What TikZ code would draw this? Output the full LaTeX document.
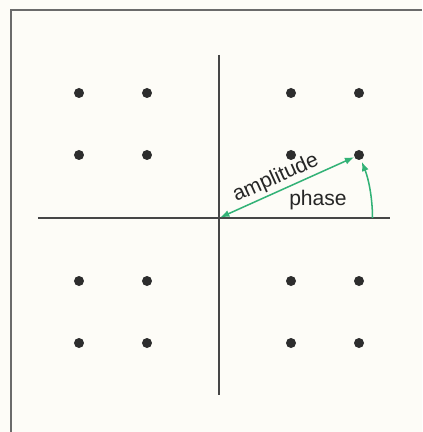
\documentclass[tikz,border=0pt]{standalone}
\usepackage{fontspec}
\setmainfont{Liberation Sans}
\usetikzlibrary{arrows.meta,positioning}
\definecolor{PaperBG}{RGB}{253,252,247}
\definecolor{AxisGray}{RGB}{70,70,70}
\definecolor{DotBlack}{RGB}{45,45,45}
\definecolor{VecGreen}{RGB}{50,178,118}

\begin{document}
\begin{tikzpicture}[
            pt/.style={circle, fill=DotBlack, inner sep=0pt, minimum size=0.3cm},
            axis/.style={draw=AxisGray, line width=1.4pt},
            vec/.style={{Latex[length=8pt,width=6pt]}-{Latex[length=8pt,width=6pt]}, draw=VecGreen, line width=1.3pt},
            ang/.style={-{Latex[length=8pt,width=6pt]}, draw=VecGreen, line width=1.3pt},
            lbl/.style={font=\fontsize{18}{21}\selectfont, text=black!85}
        ]
            \useasboundingbox[fill=PaperBG] (-6.57,-6.42) rectangle (6.09,6.54);
            % frame, cut off at right and bottom
            \draw[AxisGray!80, line width=1.3pt] (6.09,6.24) -- (-6.24,6.24) -- (-6.24,-6.42);
            % axes
            \coordinate (o)   at (0,0);
            \coordinate (top) at (0,4.89);
            \coordinate (bot) at (0,-5.31);
            \coordinate (lft) at (-5.43,0);
            \coordinate (rgt) at (5.13,0);
            \draw[axis] (top) -- (bot);
            \draw[axis] (lft) -- (rgt);
            % constellation points
            \foreach \i/\x in {1/-4.2,2/-2.16,3/2.16,4/4.2}
                \foreach \j/\y in {1/3.75,2/1.89,3/-1.89,4/-3.75}
                    \node[pt] (p\i\j) at (\x,\y) {};
            % amplitude and phase
            \draw[vec, shorten <=1pt] (o) -- (p42)
                node[lbl, sloped, above, pos=0.46, inner sep=2pt] (amp) {amplitude};
            \coordinate (arc0) at (4.605,0);
            \draw[ang] (arc0) arc[start angle=0, end angle=21.5, radius=4.605];
            \node[lbl] (ph) at (2.97,0.54) {phase};
        \end{tikzpicture}
\end{document}
